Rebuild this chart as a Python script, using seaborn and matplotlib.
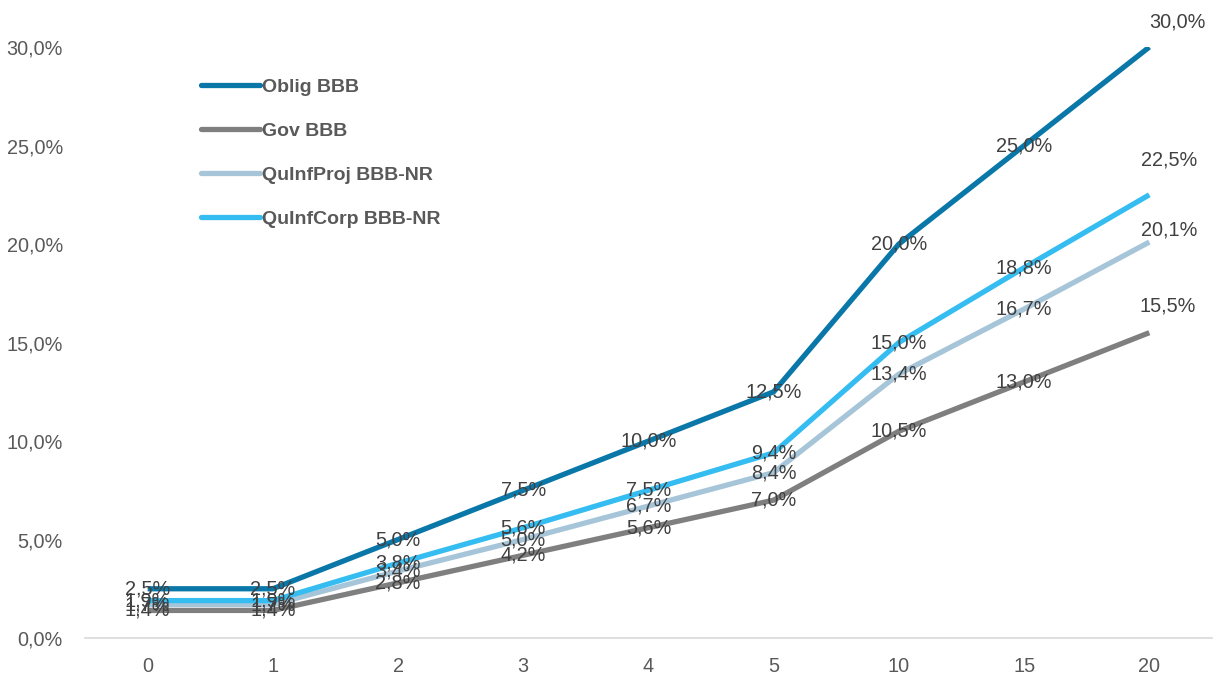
import matplotlib
matplotlib.use("Agg")
import matplotlib.pyplot as plt
import seaborn as sns
import pandas as pd

# Horizons (years) shown as evenly spaced categories
horizons = ["0", "1", "2", "3", "4", "5", "10", "15", "20"]

# Cumulative default rates (%) per series
oblig_bbb = [2.5, 2.5, 5.0, 7.5, 10.0, 12.5, 20.0, 25.0, 30.0]
gov_bbb = [1.4, 1.4, 2.8, 4.2, 5.6, 7.0, 10.5, 13.0, 15.5]
quinfproj = [1.7, 1.7, 3.4, 5.0, 6.7, 8.4, 13.4, 16.7, 20.1]
quinfcorp = [1.9, 1.9, 3.8, 5.6, 7.5, 9.4, 15.0, 18.8, 22.5]

series_names = ["Oblig BBB", "Gov BBB", "QuInfProj BBB-NR", "QuInfCorp BBB-NR"]
series_values = [oblig_bbb, gov_bbb, quinfproj, quinfcorp]
colors = ["#0a77a9", "#7f7f7f", "#a6c5d8", "#35bdf2"]
# offsets (points) of the end-of-line labels
end_offsets = [(20, 18), (13, 19), (14, 9), (14, 25)]

df = pd.concat(
    [pd.DataFrame({"horizon": horizons, "rate": vals, "series": name})
     for name, vals in zip(series_names, series_values)],
    ignore_index=True,
)

sns.set_theme(style="white")
plt.rcParams["font.family"] = ["Liberation Sans", "DejaVu Sans"]

fig = plt.figure(figsize=(12.18, 6.82), dpi=100)
ax = fig.add_axes([0.0698, 0.0645, 0.9252, 0.8665])

sns.lineplot(
    data=df, x="horizon", y="rate", hue="series", hue_order=series_names,
    palette=colors, linewidth=3.8, sort=False, ax=ax, legend=False,
    solid_capstyle="butt",
)

FS = 14.3
ax.set_xlim(-0.5, len(horizons) - 0.5)
ax.set_ylim(0, 30)
yt = [0, 5, 10, 15, 20, 25, 30]
ax.set_yticks(yt)
ax.set_yticklabels([f"{v:.1f}%".replace(".", ",") for v in yt])
ax.set_xlabel("")
ax.set_ylabel("")
ax.tick_params(axis="both", length=0, labelsize=FS, colors="#595959")
ax.tick_params(axis="x", pad=14)
ax.tick_params(axis="y", pad=16)
for side in ["top", "right", "left"]:
    ax.spines[side].set_visible(False)
ax.spines["bottom"].set_color("#d9d9d9")
ax.spines["bottom"].set_linewidth(1.2)

# Value labels centred on each point; the last point's labels sit above-right of the line end
last = len(horizons) - 1
for name, vals, off in zip(series_names, series_values, end_offsets):
    for i, v in enumerate(vals):
        txt = f"{v:.1f}%".replace(".", ",")
        xytext = off if i == last else (0, 0)
        ax.annotate(txt, (i, v), xytext=xytext, textcoords="offset points",
                    ha="center", va="center", fontsize=FS, color="#404040",
                    annotation_clip=False)

handles = [plt.Line2D([0], [0], color=c, linewidth=3.8, solid_capstyle="round") for c in colors]
leg = ax.legend(
    handles, series_names, loc="upper left", bbox_to_anchor=(0.0876, 0.977),
    frameon=False, handlelength=3.0, handletextpad=0.1, labelspacing=1.36,
    prop={"weight": "bold", "size": 14},
)
for t in leg.get_texts():
    t.set_color("#595959")

fig.savefig("out.png", dpi=100)
